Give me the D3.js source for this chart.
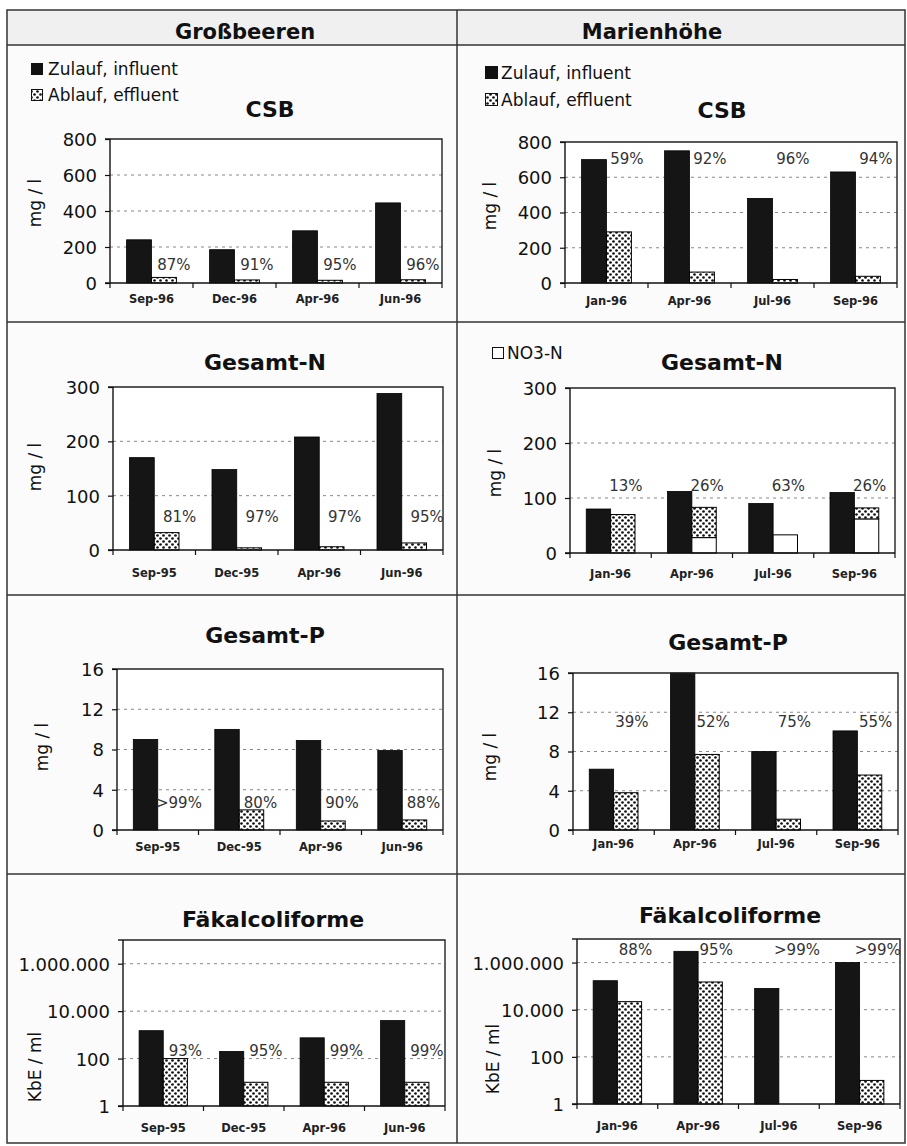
<!DOCTYPE html>
<html><head><meta charset="utf-8">
<script src="https://cdn.jsdelivr.net/npm/d3@7"></script>
<style>
body{margin:0;background:#fff}
text{font-family:"DejaVu Sans",sans-serif}
</style>
</head><body>
<svg id="c" width="907" height="1146"></svg>
<script>
// ---------- DATA ----------
const colHeads = ["Großbeeren", "Marienhöhe"];
const legendLabels = ["Zulauf, influent", "Ablauf, effluent", "NO3-N"];

const gbCsbCats = ["Sep-96", "Dec-96", "Apr-96", "Jun-96"];
const gbCats = ["Sep-95", "Dec-95", "Apr-96", "Jun-96"];
const mhCats = ["Jan-96", "Apr-96", "Jul-96", "Sep-96"];

const csbTicks = [0, 200, 400, 600, 800];
const nTicks = [0, 100, 200, 300];
const pTicks = [0, 4, 8, 12, 16];
const fcTicks = [1, 100, 10000, 1000000];
const fcTickLabels = ["1", "100", "10.000", "1.000.000"];

const gbCsbIn = [240, 185, 290, 445];
const gbCsbOut = [31, 17, 15, 18];
const gbCsbPct = ["87%", "91%", "95%", "96%"];

const mhCsbIn = [700, 750, 480, 630];
const mhCsbOut = [290, 62, 20, 38];
const mhCsbPct = ["59%", "92%", "96%", "94%"];

const gbNIn = [170, 148, 208, 288];
const gbNOut = [32, 4, 6, 13];
const gbNPct = ["81%", "97%", "97%", "95%"];

const mhNIn = [80, 112, 90, 110];
const mhNOut = [70, 83, 33, 82];
const mhNO3 = [0, 28, 33, 62];
const mhNPct = ["13%", "26%", "63%", "26%"];

const gbPIn = [9.0, 10.0, 8.9, 7.9];
const gbPOut = [0, 2.0, 0.9, 1.0];
const gbPPct = [">99%", "80%", "90%", "88%"];

const mhPIn = [6.2, 16, 8.0, 10.1];
const mhPOut = [3.8, 7.7, 1.1, 5.6];
const mhPPct = ["39%", "52%", "75%", "55%"];

const gbFcIn = [1500, 200, 750, 4000];
const gbFcOut = [100, 10, 10, 10];
const gbFcPct = ["93%", "95%", "99%", "99%"];

const mhFcIn = [170000, 3000000, 80000, 1000000];
const mhFcOut = [22000, 150000, null, 10];
const mhFcPct = ["88%", "95%", ">99%", ">99%"];

// ---------- CHART SETUP ----------
const charts = [
  {title:"CSB", cats:gbCsbCats, inf:gbCsbIn, eff:gbCsbOut, pct:gbCsbPct, ticks:csbTicks,
   box:[110,139,442,283], tPos:[270,117], yT:"mg / l", yTPos:[35,203], lbl:72, xOff:20, dx:10},
  {title:"CSB", cats:mhCats, inf:mhCsbIn, eff:mhCsbOut, pct:mhCsbPct, ticks:csbTicks,
   box:[565,142,897,283], tPos:[722,118], yT:"mg / l", yTPos:[490,206], lbl:676, xOff:22, dx:8},
  {title:"Gesamt-N", cats:gbCats, inf:gbNIn, eff:gbNOut, pct:gbNPct, ticks:nTicks,
   box:[113,387,443,550], tPos:[265,370], yT:"mg / l", yTPos:[35,467], lbl:52, xOff:27, dx:13},
  {title:"Gesamt-N", cats:mhCats, inf:mhNIn, eff:mhNOut, no3:mhNO3, pct:mhNPct, ticks:nTicks,
   box:[570,388,895,553], tPos:[722,370], yT:"mg / l", yTPos:[495,473], lbl:113, xOff:25, dx:3},
  {title:"Gesamt-P", cats:gbCats, inf:gbPIn, eff:gbPOut, pct:gbPPct, ticks:pTicks,
   box:[117,669,443,830], tPos:[265,643], yT:"mg / l", yTPos:[42,747], lbl:2.2, xOff:21, dx:9},
  {title:"Gesamt-P", cats:mhCats, inf:mhPIn, eff:mhPOut, pct:mhPPct, ticks:pTicks,
   box:[573,673,898,830], tPos:[728,650], yT:"mg / l", yTPos:[490,757], lbl:10.5, xOff:18, dx:6},
  {title:"Fäkalcoliforme", cats:gbCats, inf:gbFcIn, eff:gbFcOut, pct:gbFcPct, ticks:fcTicks, tickLabels:fcTickLabels, log:true,
   box:[123,940,445,1106], tPos:[273,927], yT:"KbE / ml", yTPos:[35,1067], lbl:130, xOff:26, dx:10},
  {title:"Fäkalcoliforme", cats:mhCats, inf:mhFcIn, eff:mhFcOut, pct:mhFcPct, ticks:fcTicks, tickLabels:fcTickLabels, log:true,
   box:[577,939,900,1104], tPos:[730,923], yT:"KbE / ml", yTPos:[493,1059], lbl:2200000, xOff:26, dx:6}
];

const svg = d3.select("#c");
const defs = svg.append("defs");
const pat = defs.append("pattern").attr("id","dots").attr("patternUnits","userSpaceOnUse")
  .attr("width",6).attr("height",6);
pat.append("rect").attr("width",6).attr("height",6).attr("fill","#fff");
pat.append("circle").attr("cx",1.5).attr("cy",1.5).attr("r",1.35).attr("fill","#111");
pat.append("circle").attr("cx",4.5).attr("cy",4.5).attr("r",1.35).attr("fill","#111");

// background & frame
svg.append("rect").attr("width",907).attr("height",1146).attr("fill","#fff");
svg.append("rect").attr("x",7).attr("y",10).attr("width",898).attr("height",1133).attr("fill","#fbfbfb");
svg.append("rect").attr("x",7).attr("y",10).attr("width",898).attr("height",35).attr("fill","#f0f0f0");
const frameCol = "#333";
svg.append("rect").attr("x",7).attr("y",10).attr("width",898).attr("height",1133)
  .attr("fill","none").attr("stroke",frameCol).attr("stroke-width",1.5);
[45, 322, 595, 874].forEach(y => svg.append("line").attr("x1",7).attr("x2",905).attr("y1",y).attr("y2",y)
  .attr("stroke",frameCol).attr("stroke-width",1.5));
svg.append("line").attr("x1",457).attr("x2",457).attr("y1",10).attr("y2",1143)
  .attr("stroke",frameCol).attr("stroke-width",1.5);

// column headers
svg.selectAll("text.head").data(colHeads).enter().append("text").attr("class","head")
  .attr("x",(d,i)=> i===0 ? 245 : 652).attr("y",39).attr("text-anchor","middle")
  .attr("font-size",21).attr("font-weight","bold").attr("fill","#111").text(d=>d);

// legends
function legend(x, y0, y1, sz, tx){
  svg.append("rect").attr("x",x).attr("y",y0).attr("width",sz).attr("height",sz).attr("fill","#111");
  svg.append("text").attr("x",tx).attr("y",y0+sz).attr("font-size",17).attr("fill","#111").text(legendLabels[0]);
  svg.append("rect").attr("x",x+0.5).attr("y",y1+0.5).attr("width",sz-1).attr("height",sz-1)
    .attr("fill","url(#dots)").attr("stroke","#111").attr("stroke-width",1);
  svg.append("text").attr("x",tx).attr("y",y1+sz).attr("font-size",17).attr("fill","#111").text(legendLabels[1]);
}
legend(31, 63, 89, 12, 48);
legend(485, 66, 93, 13, 501);
svg.append("rect").attr("x",492.5).attr("y",347.5).attr("width",11).attr("height",11)
  .attr("fill","#fff").attr("stroke","#111").attr("stroke-width",1);
svg.append("text").attr("x",507).attr("y",359).attr("font-size",17).attr("fill","#111").text(legendLabels[2]);

// charts
charts.forEach(c => {
  const [x0,y0,x1,y1] = c.box;
  const g = svg.append("g");
  const x = d3.scaleBand().domain(c.cats).range([x0,x1]).paddingInner(0).paddingOuter(0);
  const y = c.log ? d3.scaleLog().domain([1,1e7]).range([y1,y0])
                  : d3.scaleLinear().domain([0, c.ticks[c.ticks.length-1]]).range([y1,y0]);
  const base = c.log ? 1 : 0;
  const bw = x.bandwidth()*0.3;
  const off = x.bandwidth()*0.2;

  // plot background
  g.append("rect").attr("x",x0).attr("y",y0).attr("width",x1-x0).attr("height",y1-y0).attr("fill","#fff");

  // gridlines
  const gridVals = c.ticks.filter(t => t !== base && y(t) > y0 + 2);
  g.selectAll("line.grid").data(gridVals).enter().append("line")
    .attr("x1",x0).attr("x2",x1).attr("y1",d=>y(d)).attr("y2",d=>y(d))
    .attr("stroke","#888").attr("stroke-width",1).attr("stroke-dasharray","3,4");

  // influent bars
  g.selectAll("rect.inf").data(c.inf).enter().append("rect")
    .attr("x",(d,i)=>x(c.cats[i])+off).attr("width",bw)
    .attr("y",d=>y(d)).attr("height",d=>y(base)-y(d))
    .attr("fill","#151515").attr("stroke","#000").attr("stroke-width",0.8);

  // NO3 (white part of effluent)
  if (c.no3) {
    c.no3.forEach((d,i) => {
      if (!d) return;
      g.append("rect").attr("x",x(c.cats[i])+off+bw).attr("width",bw)
        .attr("y",y(d)).attr("height",y(0)-y(d))
        .attr("fill","#fff").attr("stroke","#000").attr("stroke-width",1);
    });
  }
  // effluent bars (dotted part)
  c.eff.forEach((d,i) => {
    if (d === null || d === undefined) return;
    const lo = c.no3 ? c.no3[i] : base;
    if (d <= lo || (c.log ? d <= 1 : d <= 0)) return;
    g.append("rect").attr("x",x(c.cats[i])+off+bw).attr("width",bw)
      .attr("y",y(d)).attr("height",y(lo)-y(d))
      .attr("fill","url(#dots)").attr("stroke","#000").attr("stroke-width",1);
  });

  // frame top & right
  g.append("path").attr("d",`M${x0-5},${y0}H${x1}V${y1}`).attr("fill","none")
    .attr("stroke","#222").attr("stroke-width",1.4);

  // y axis
  const ax = d3.axisLeft(y).tickValues(c.ticks).tickSize(5).tickPadding(8)
    .tickFormat((d,i)=> c.tickLabels ? c.tickLabels[i] : String(d));
  const ag = g.append("g").attr("transform",`translate(${x0},0)`).call(ax);
  ag.select(".domain").attr("d",`M0,${y0}V${y1}`).attr("stroke","#111").attr("stroke-width",1.4);
  ag.selectAll(".tick line").attr("stroke","#111").attr("stroke-width",1.2);
  ag.selectAll(".tick text").attr("font-size",18).attr("fill","#111")
    .attr("font-family","DejaVu Sans").attr("dy","0.36em");

  // x axis line & ticks at category boundaries
  g.append("line").attr("x1",x0-5).attr("x2",x1).attr("y1",y1).attr("y2",y1)
    .attr("stroke","#111").attr("stroke-width",1.4);
  const bounds = c.cats.map(k=>x(k)).concat([x1]);
  g.selectAll("line.xt").data(bounds).enter().append("line")
    .attr("x1",d=>d).attr("x2",d=>d).attr("y1",y1).attr("y2",y1+5)
    .attr("stroke","#111").attr("stroke-width",1.2);
  g.selectAll("text.xl").data(c.cats).enter().append("text")
    .attr("x",d=>x(d)+x.bandwidth()/2).attr("y",y1+c.xOff).attr("text-anchor","middle")
    .attr("font-size",11.5).attr("font-weight","bold").attr("fill","#222").text(d=>d);

  // percentage labels
  g.selectAll("text.pct").data(c.pct).enter().append("text")
    .attr("x",(d,i)=>x(c.cats[i])+off+bw*1.5+c.dx).attr("y",y(c.lbl)).attr("text-anchor","middle")
    .attr("font-size",15).attr("fill","#333").text(d=>d);

  // title
  g.append("text").attr("x",c.tPos[0]).attr("y",c.tPos[1]).attr("text-anchor","middle")
    .attr("font-size",22).attr("font-weight","bold").attr("fill","#111").text(c.title);

  // y-axis title
  g.append("text").attr("transform",`translate(${c.yTPos[0]},${c.yTPos[1]}) rotate(-90)`)
    .attr("text-anchor","middle").attr("dy","0.35em")
    .attr("font-size",17).attr("fill","#111").text(c.yT);
});
</script>
</body></html>
